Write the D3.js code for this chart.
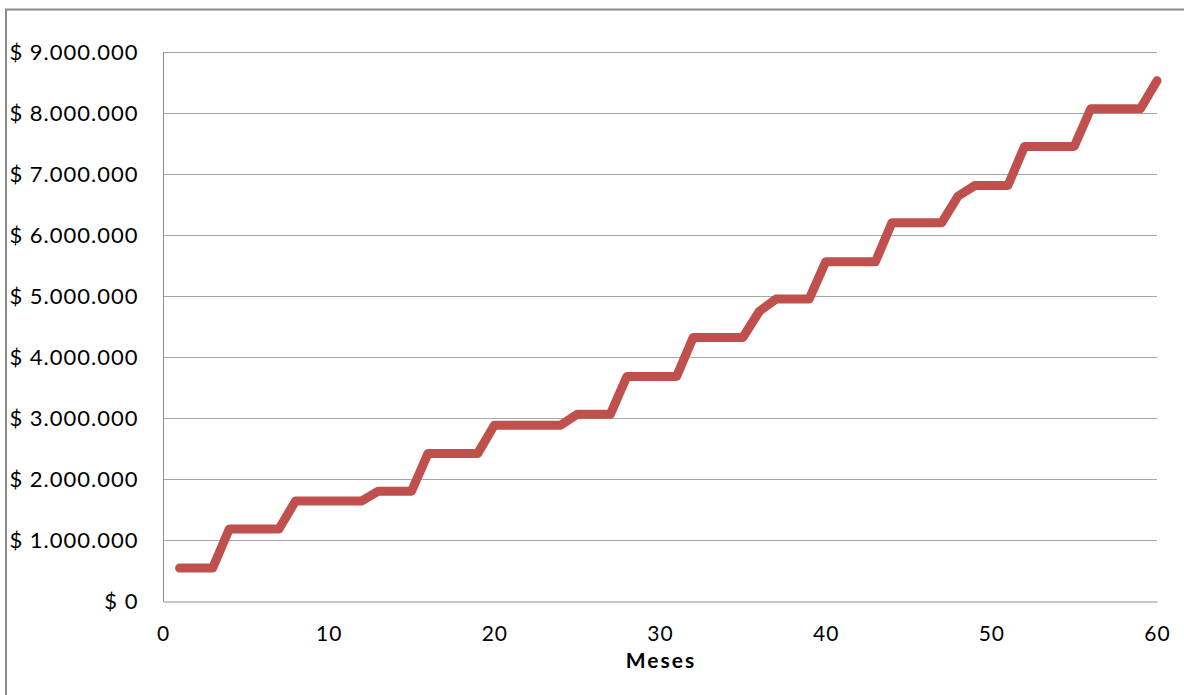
<!DOCTYPE html>
<html>
<head>
<meta charset="utf-8">
<script src="https://cdn.jsdelivr.net/npm/d3@7/dist/d3.min.js"></script>
<style>
  html, body { margin: 0; padding: 0; background: #fff; }
  svg { display: block; }
  text { font-family: Lato, "Open Sans", "Liberation Sans", sans-serif; fill: #000; }
</style>
</head>
<body>
<svg id="chart" width="1184" height="695"></svg>
<script>
// Months 1..60 and the accumulated amount per month
const months = d3.range(1, 61);
const values = [
  540000, 540000, 540000,
  1180000, 1180000, 1180000, 1180000,
  1640000, 1640000, 1640000, 1640000, 1640000,
  1800000, 1800000, 1800000,
  2420000, 2420000, 2420000, 2420000,
  2880000, 2880000, 2880000, 2880000, 2880000,
  3060000, 3060000, 3060000,
  3680000, 3680000, 3680000, 3680000,
  4320000, 4320000, 4320000, 4320000,
  4750000,
  4950000, 4950000, 4950000,
  5560000, 5560000, 5560000, 5560000,
  6200000, 6200000, 6200000, 6200000,
  6640000,
  6810000, 6810000, 6810000,
  7450000, 7450000, 7450000, 7450000,
  8070000, 8070000, 8070000, 8070000,
  8530000
];
const xTicks = [0, 10, 20, 30, 40, 50, 60];
const yTicks = [0, 1000000, 2000000, 3000000, 4000000, 5000000, 6000000, 7000000, 8000000, 9000000];
const xTitle = "Meses";

const svg = d3.select("#chart");
const plotLeft = 163, plotRight = 1157, plotTop = 52, plotBottom = 601;

const x = d3.scaleLinear().domain([0, 60]).range([plotLeft, plotRight]);
const y = d3.scaleLinear().domain([0, 9000000]).range([plotBottom, plotTop]);

// Money format: "$ 1.000.000"
const money = v => "$ " + d3.format(",")(v).replace(/,/g, ".");

// Outer chart frame (runs off the right and bottom edges)
svg.append("rect")
  .attr("x", 6).attr("y", 9.5)
  .attr("width", 1300).attr("height", 800)
  .attr("fill", "none")
  .attr("stroke", "#8a8a8a")
  .attr("stroke-width", 2);

// Horizontal gridlines
svg.append("g")
  .selectAll("line")
  .data(yTicks.filter(d => d > 0))
  .join("line")
  .attr("x1", plotLeft).attr("x2", plotRight)
  .attr("y1", d => Math.round(y(d)) + 0.5)
  .attr("y2", d => Math.round(y(d)) + 0.5)
  .attr("stroke", "#a6a6a6")
  .attr("stroke-width", 1);

// Y axis
const yAxis = svg.append("g")
  .attr("transform", `translate(${plotLeft + 0.5},0)`)
  .call(d3.axisLeft(y).tickValues(yTicks).tickFormat(money).tickSize(0).tickPadding(25));
yAxis.select(".domain").attr("stroke", "#8c8c8c").attr("d", `M0,${plotTop}V${plotBottom + 0.5}`);
yAxis.selectAll("text")
  .attr("font-size", 22)
  .attr("letter-spacing", 1)
  .style("font-family", "Lato, 'Open Sans', sans-serif");

// X axis
const xAxis = svg.append("g")
  .attr("transform", `translate(0,${plotBottom + 0.5})`)
  .call(d3.axisBottom(x).tickValues(xTicks).tickSize(0).tickPadding(25));
xAxis.select(".domain").attr("stroke", "#8c8c8c");
xAxis.selectAll("text")
  .attr("font-size", 21)
  .attr("letter-spacing", 1)
  .style("font-family", "Lato, 'Open Sans', sans-serif");

// Axis title
svg.append("text")
  .attr("x", 661).attr("y", 668)
  .attr("text-anchor", "middle")
  .attr("font-size", 21)
  .attr("letter-spacing", 2)
  .attr("font-weight", "bold")
  .text(xTitle);

// Series line
const line = d3.line()
  .x((d, i) => x(months[i]))
  .y(d => y(d));

svg.append("path")
  .datum(values)
  .attr("d", line)
  .attr("fill", "none")
  .attr("stroke", "#c0504d")
  .attr("stroke-width", 9)
  .attr("stroke-linejoin", "round")
  .attr("stroke-linecap", "round");
</script>
</body>
</html>
